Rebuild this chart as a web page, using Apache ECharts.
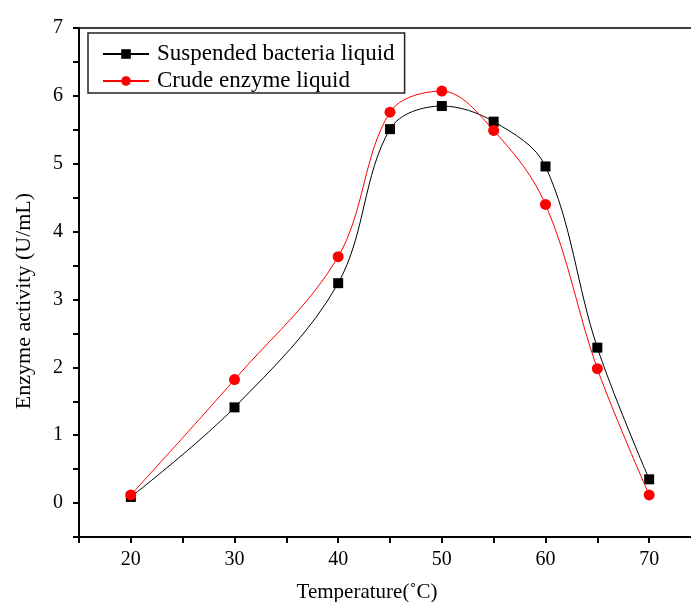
<!DOCTYPE html>
<html>
<head>
<meta charset="utf-8">
<script src="https://cdn.jsdelivr.net/npm/echarts@6/dist/echarts.min.js"></script>
<style>
  html, body { margin: 0; padding: 0; background: #fff; }
  #chart { width: 691px; height: 602px; }
</style>
</head>
<body>
<div id="chart"></div>
<script>
// Temperature steps (°C)
const temperatures = [20, 30, 40, 45, 50, 55, 60, 65, 70];
// Enzyme activity (U/mL)
const suspendedBacteria = [0.09, 1.41, 3.24, 5.51, 5.85, 5.62, 4.96, 2.29, 0.35];
const crudeEnzyme = [0.12, 1.82, 3.63, 5.76, 6.07, 5.49, 4.40, 1.98, 0.12];

const seriesNames = ['Suspended bacteria liquid', 'Crude enzyme liquid'];
const xTitle = 'Temperature(˚C)';
const yTitle = 'Enzyme activity (U/mL)';

const serif = 'Liberation Serif, Times New Roman, serif';

function pairs(xs, ys) {
  return xs.map((x, i) => [x, ys[i]]);
}

const chart = echarts.init(document.getElementById('chart'), null, { renderer: 'canvas' });

chart.setOption({
  animation: false,
  backgroundColor: '#fff',
  grid: {
    left: 79, top: 28, width: 622, height: 509,
    containLabel: false,
    outerBoundsMode: 'none',
    show: true, borderColor: '#000', borderWidth: 1.5, backgroundColor: 'transparent'
  },
  legend: {
    left: 88, top: 33,
    orient: 'vertical',
    data: seriesNames,
    itemWidth: 46, itemHeight: 12, itemGap: 3,
    padding: [9, 10, 0, 14],
    borderColor: '#222', borderWidth: 1.5,
    textStyle: {
      fontFamily: serif, fontSize: 23, color: '#000',
      lineHeight: 24, padding: [0, 0, 0, 3]
    }
  },
  xAxis: {
    type: 'value', min: 15, max: 75, interval: 5,
    axisLine: { onZero: false, lineStyle: { color: '#000', width: 2 } },
    axisTick: { inside: false, length: 6, lineStyle: { color: '#000', width: 2 } },
    splitLine: { show: false },
    axisLabel: {
      fontFamily: serif, fontSize: 20, color: '#000', margin: 13,
      formatter: v => (v % 10 === 0 ? String(v) : '')
    }
  },
  yAxis: {
    type: 'value', min: -0.5, max: 7, interval: 0.5,
    axisLine: { show: true, onZero: false, lineStyle: { color: '#000', width: 2 } },
    axisTick: { show: true, inside: false, length: 6, lineStyle: { color: '#000', width: 2 } },
    splitLine: { show: false },
    axisLabel: {
      fontFamily: serif, fontSize: 20, color: '#000', margin: 16,
      formatter: v => (Number.isInteger(v) ? String(v) : '')
    }
  },
  graphic: [
    {
      type: 'text', x: 367, y: 592,
      style: {
        text: xTitle, fontFamily: serif, fontSize: 21, fill: '#000',
        align: 'center', verticalAlign: 'middle'
      }
    },
    {
      type: 'text', x: 24, y: 301, rotation: Math.PI / 2,
      style: {
        text: yTitle, fontFamily: serif, fontSize: 22, fill: '#000',
        align: 'center', verticalAlign: 'middle'
      }
    }
  ],
  series: [
    {
      name: seriesNames[0], type: 'line', smooth: 0.35,
      data: pairs(temperatures, suspendedBacteria),
      symbol: 'rect', symbolSize: 10,
      lineStyle: { color: '#000', width: 1 },
      itemStyle: { color: '#000' },
      z: 2
    },
    {
      name: seriesNames[1], type: 'line', smooth: 0.35,
      data: pairs(temperatures, crudeEnzyme),
      symbol: 'circle', symbolSize: 11,
      lineStyle: { color: '#ff0000', width: 1 },
      itemStyle: { color: '#ff0000' },
      z: 3
    }
  ]
});
</script>
</body>
</html>
